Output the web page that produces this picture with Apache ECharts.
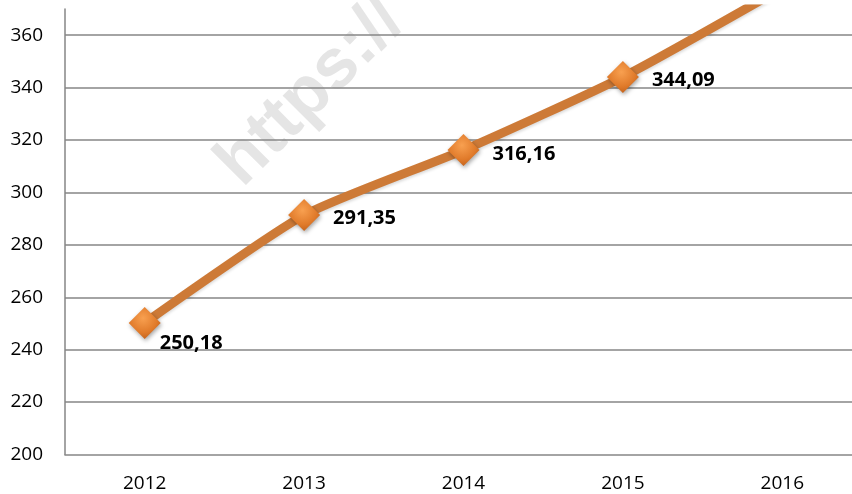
<!DOCTYPE html>
<html>
<head>
<meta charset="utf-8">
<script src="https://cdn.jsdelivr.net/npm/echarts@6/dist/echarts.min.js"></script>
<style>html,body{margin:0;padding:0;background:#fff}#c{width:852px;height:494px}</style>
</head>
<body>
<div id="c"></div>
<script>
var categories = ['2012', '2013', '2014', '2015', '2016'];
var values = [250.18, 291.35, 316.16, 344.09, 378.0];
var labels = ['250,18', '291,35', '316,16', '344,09', '378,00'];
var yTicks = { min: 200, max: 370, interval: 20 };

var labelOffsets = [[-14, 20], [0, 3], [0, 4], [0, 3], [0, 0]];
var chart = echarts.init(document.getElementById('c'), null, { renderer: 'canvas' });
var data = values.map(function (v, i) {
  return {
    value: v,
    label: {
      show: i < 4,
      offset: labelOffsets[i],
      formatter: labels[i]
    }
  };
});
var markerColor = new echarts.graphic.RadialGradient(0.45, 0.35, 0.75, [
  { offset: 0, color: '#F8A050' },
  { offset: 0.6, color: '#E07A2A' },
  { offset: 1, color: '#B85A18' }
]);
chart.setOption({
  animation: false,
  backgroundColor: '#ffffff',
  graphic: [{
    type: 'text',
    z: -10,
    x: 204,
    y: 150,
    rotation: Math.PI / 4,
    style: {
      text: 'https://',
      fill: '#e5e5e5',
      font: 'bold 70px "Liberation Sans", sans-serif'
    }
  }],
  grid: { left: 65, top: 9, width: 797, bottom: 39.5, containLabel: false, outerBoundsMode: 'none' },
  xAxis: {
    type: 'category',
    data: categories,
    boundaryGap: true,
    axisLine: { show: true, lineStyle: { color: '#868686', width: 1.5 } },
    axisTick: { show: false },
    axisLabel: { color: '#000', fontSize: 19, fontFamily: 'Open Sans', margin: 20 },
    splitLine: { show: false }
  },
  yAxis: {
    type: 'value',
    min: yTicks.min,
    max: yTicks.max,
    interval: yTicks.interval,
    axisLine: { show: true, lineStyle: { color: '#868686', width: 1.5 } },
    axisTick: { show: false },
    axisLabel: { color: '#000', fontSize: 19, fontFamily: 'Open Sans', margin: 22, showMaxLabel: false },
    splitLine: { show: true, showMinLine: false, showMaxLine: false, lineStyle: { color: '#868686', width: 1.5 } }
  },
  series: [{
    type: 'line',
    data: data,
    smooth: 0.2,
    clip: true,
    symbol: 'diamond',
    symbolSize: 32,
    lineStyle: { color: '#CD7A37', width: 9, shadowColor: 'rgba(0,0,0,0.15)', shadowBlur: 3, shadowOffsetY: 2 },
    itemStyle: { color: markerColor, shadowColor: 'rgba(0,0,0,0.35)', shadowBlur: 4, shadowOffsetX: 1, shadowOffsetY: 2 },
    label: {
      show: true,
      position: 'right',
      distance: 13,
      color: '#000',
      fontSize: 20,
      fontWeight: 'bold',
      fontFamily: 'Open Sans'
    }
  }]
});
</script>
</body>
</html>
